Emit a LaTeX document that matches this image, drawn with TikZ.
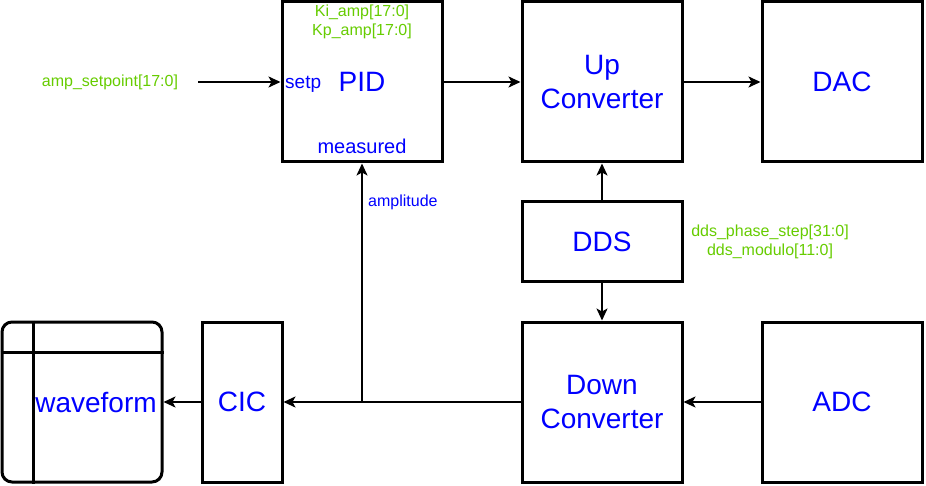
\documentclass[tikz,border=0pt]{standalone}
\usepackage{fontspec}
\setmainfont{Liberation Sans}
\usetikzlibrary{arrows.meta}
\definecolor{lblue}{HTML}{0000FF}
\definecolor{lgreen}{HTML}{66CC00}
\begin{document}
\begin{tikzpicture}[x=1pt,y=-1pt,
  blk/.style={draw=black,line width=3pt,fill=white,inner sep=0pt,text=lblue,font=\fontsize{28}{34}\selectfont,align=center},
  conn/.style={line width=1.8pt,-{Stealth[length=12pt,width=11pt,inset=3pt]}},
  grn/.style={text=lgreen,font=\fontsize{16}{19.5}\selectfont,inner sep=0pt,align=center},
  bl/.style={text=lblue,inner sep=0pt}]
\useasboundingbox (0,0) rectangle (926,486);
\node[blk,minimum width=160pt,minimum height=160pt] (pid) at (362,82) {};
\node[font=\fontsize{28}{32}\selectfont,bl] (pidt) at (362,82) {PID};
\node[blk,minimum width=160pt,minimum height=160pt] (up) at (602,82) {Up\\Converter};
\node[blk,minimum width=160pt,minimum height=160pt] (dac) at (842,82) {DAC};
\node[blk,minimum width=160pt,minimum height=80pt] (dds) at (602,242) {DDS};
\node[blk,minimum width=160pt,minimum height=160pt] (down) at (602,402) {Down\\Converter};
\node[blk,minimum width=160pt,minimum height=160pt] (adc) at (842,402) {ADC};
\node[blk,minimum width=80pt,minimum height=160pt] (cic) at (242,402) {CIC};
\node[blk,minimum width=160pt,minimum height=160pt,rounded corners=10pt] (wave) at (82,402) {};
\draw[line width=3pt] (wave.north west -| 33,0) -- (wave.south west -| 33,0);
\draw[line width=3pt] (wave.west |- 0,352) -- (wave.east |- 0,352);
\node[bl,font=\fontsize{28}{32}\selectfont] (wavet) at (96,403) {waveform};
% labels
\node[grn] (kiamp) at (362,22) {Ki\_amp[17:0]\\Kp\_amp[17:0]};
\node[bl,font=\fontsize{19}{22}\selectfont,anchor=west] (setp) at (285,84) {setp};
\node[bl,font=\fontsize{20}{23}\selectfont] (meas) at (362,146) {measured};
\node[grn] (ampsp) at (110,82) {amp\_setpoint[17:0]};
\node[bl,font=\fontsize{16}{19}\selectfont,anchor=west] (ampl) at (368,202) {amplitude};
\node[grn] (ddsl) at (770,242) {dds\_phase\_step[31:0]\\dds\_modulo[11:0]};
\coordinate (spstart) at (198,82);
\coordinate (br) at (362,402);
% connectors
\draw[conn] (spstart) -- (pid.west);
\draw[conn] (pid.east) -- (up.west);
\draw[conn] (up.east) -- (dac.west);
\draw[conn] (dds.north) -- (up.south);
\draw[conn] (dds.south) -- (down.north);
\draw[conn] (adc.west) -- (down.east);
\draw[conn] (down.west) -- (cic.east);
\draw[conn] (br) -- (pid.south);
\draw[conn] (cic.west) -- (wave.east);
\end{tikzpicture}
\end{document}
